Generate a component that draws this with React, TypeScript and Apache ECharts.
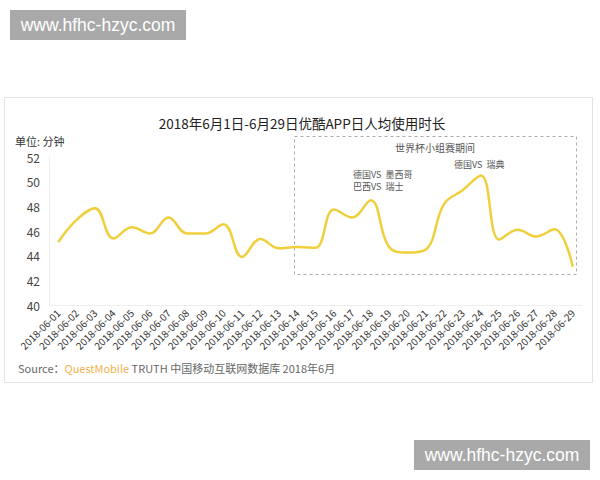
import React, { useEffect, useRef } from "react";
import * as echarts from "echarts";

const dates = [
  "2018-06-01", "2018-06-02", "2018-06-03", "2018-06-04", "2018-06-05",
  "2018-06-06", "2018-06-07", "2018-06-08", "2018-06-09", "2018-06-10",
  "2018-06-11", "2018-06-12", "2018-06-13", "2018-06-14", "2018-06-15",
  "2018-06-16", "2018-06-17", "2018-06-18", "2018-06-19", "2018-06-20",
  "2018-06-21", "2018-06-22", "2018-06-23", "2018-06-24", "2018-06-25",
  "2018-06-26", "2018-06-27", "2018-06-28", "2018-06-29",
];
const minutes = [
  45.1, 46.9, 47.85, 45.4, 46.3, 45.8, 47.1, 45.8, 45.8, 46.55,
  43.9, 45.35, 44.6, 44.7, 44.65, 47.75, 47.1, 48.5, 44.7, 44.25,
  44.5, 48.2, 49.3, 50.5, 45.3, 46.1, 45.55, 46.15, 43.1,
];
const yTicks = { min: 40, max: 52, interval: 2 };

const titleText = "2018年6月1日-6月29日优酷APP日人均使用时长";
const unitText = "单位: 分钟";
const periodText = "世界杯小组赛期间";
const match1 = "德国VS  墨西哥";
const match2 = "巴西VS  瑞士";
const match3 = "德国VS  瑞典";
const watermark = "www.hfhc-hzyc.com";

const FONT = '"Noto Sans CJK SC", "Noto Sans", sans-serif';

export default function App() {
  const ref = useRef<HTMLDivElement>(null);
  useEffect(() => {
    if (!ref.current) return;
    const chart = echarts.init(ref.current, undefined, { renderer: "svg" });
    const smallText = (x: number, y: number, text: string) => ({
      type: "text",
      x,
      y,
      style: {
        text,
        fontSize: 9,
        lineHeight: 10,
        fill: "#555555",
        fontFamily: FONT,
        textAlign: "left",
        textVerticalAlign: "middle",
      },
    });
    chart.setOption({
      animation: false,
      backgroundColor: "#ffffff",
      textStyle: { fontFamily: FONT },
      grid: { left: 49, right: 18, top: 157, bottom: 175, containLabel: false },
      xAxis: {
        type: "category",
        data: dates,
        boundaryGap: true,
        axisLine: { show: true, lineStyle: { color: "#eeeeee", width: 1 } },
        axisTick: { show: false },
        axisLabel: {
          interval: 0,
          rotate: 45,
          fontSize: 10,
          color: "#333333",
          margin: 6,
          fontFamily: FONT,
        },
        splitLine: { show: false },
      },
      yAxis: {
        type: "value",
        min: yTicks.min,
        max: yTicks.max,
        interval: yTicks.interval,
        axisLine: { show: true, lineStyle: { color: "#eeeeee", width: 1 } },
        axisTick: { show: false },
        splitLine: { show: false },
        axisLabel: { fontSize: 12, color: "#444444", margin: 9, fontFamily: FONT },
      },
      series: [
        {
          type: "line",
          data: minutes,
          smooth: 0.4,
          symbol: "none",
          lineStyle: { color: "#F0CF3C", width: 2.5 },
          z: 5,
        },
      ],
      graphic: [
        {
          type: "rect",
          z: -10,
          shape: { x: 4.5, y: 97.5, width: 588, height: 285 },
          style: { fill: "#ffffff", stroke: "#e2e2e2", lineWidth: 1 },
        },
        {
          type: "text",
          x: 302,
          y: 123,
          style: {
            text: titleText,
            fontSize: 13.5,
            fill: "#222222",
            fontFamily: FONT,
            textAlign: "center",
            textVerticalAlign: "middle",
          },
        },
        {
          type: "text",
          x: 15,
          y: 141,
          style: {
            text: unitText,
            fontSize: 11,
            lineHeight: 12,
            fill: "#333333",
            fontFamily: FONT,
            textAlign: "left",
            textVerticalAlign: "middle",
          },
        },
        {
          type: "rect",
          shape: { x: 294.5, y: 136.5, width: 282, height: 138 },
          style: { fill: "none", stroke: "#aaaaaa", lineWidth: 1, lineDash: [3, 3] },
        },
        {
          type: "text",
          x: 435,
          y: 147,
          style: {
            text: periodText,
            fontSize: 10,
            fill: "#555555",
            fontFamily: FONT,
            textAlign: "center",
            textVerticalAlign: "middle",
          },
        },
        smallText(353, 174, match1),
        smallText(353, 186, match2),
        smallText(454, 164.5, match3),
        {
          type: "text",
          x: 18,
          y: 368,
          style: {
            text: "{a|Source：}{b|QuestMobile}{a| TRUTH 中国移动互联网数据库 2018年6月}",
            fontFamily: FONT,
            textVerticalAlign: "middle",
            rich: {
              a: { fontSize: 11, fill: "#666666", color: "#666666", fontFamily: FONT },
              b: { fontSize: 11, fill: "#F2B24A", color: "#F2B24A", fontFamily: FONT },
            },
          },
        },
        {
          type: "rect",
          shape: { x: 10, y: 10, width: 176, height: 30 },
          style: { fill: "#a9a9a9" },
        },
        {
          type: "text",
          x: 98,
          y: 25,
          style: {
            text: watermark,
            fontSize: 17.5,
            fill: "#ffffff",
            fontFamily: '"Liberation Sans", Arial, sans-serif',
            textAlign: "center",
            textVerticalAlign: "middle",
          },
        },
        {
          type: "rect",
          shape: { x: 414, y: 440, width: 176, height: 30 },
          style: { fill: "#a9a9a9" },
        },
        {
          type: "text",
          x: 502,
          y: 455,
          style: {
            text: watermark,
            fontSize: 17.5,
            fill: "#ffffff",
            fontFamily: '"Liberation Sans", Arial, sans-serif',
            textAlign: "center",
            textVerticalAlign: "middle",
          },
        },
      ],
    });
    return () => chart.dispose();
  }, []);
  return (
    <div
      ref={ref}
      style={{ position: "absolute", left: 0, top: 0, width: 600, height: 480 }}
    />
  );
}
